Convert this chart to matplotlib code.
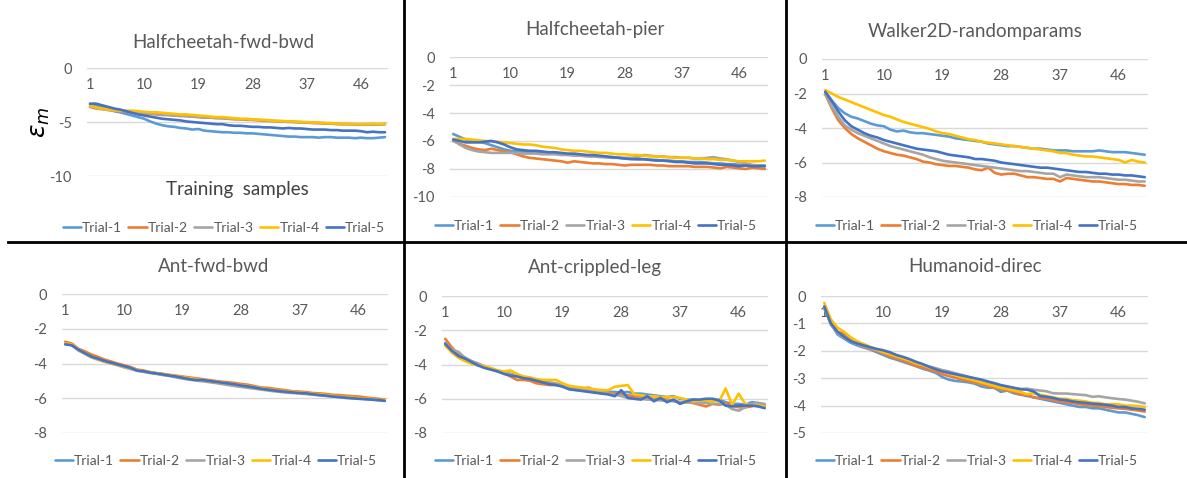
import matplotlib
matplotlib.use("Agg")
import matplotlib.pyplot as plt
from matplotlib.lines import Line2D

# =========================
# Data
# =========================

samples = list(range(1, 51))
xtick_labels = [1, 10, 19, 28, 37, 46]
trial_names = ["Trial-1", "Trial-2", "Trial-3", "Trial-4", "Trial-5"]

# Halfcheetah-fwd-bwd
hfb_1 = [-3.4, -3.45, -3.6, -3.8, -4.0, -4.1, -4.25, -4.4, -4.55, -4.7, -4.95, -5.15, -5.3, -5.4, -5.45, -5.55, -5.6, -5.7, -5.65, -5.8,
         -5.85, -5.9, -5.95, -5.95, -6.0, -6.0, -6.05, -6.05, -6.1, -6.15, -6.2, -6.25, -6.3, -6.35, -6.35, -6.4, -6.4, -6.4, -6.45, -6.4,
         -6.4, -6.45, -6.45, -6.45, -6.5, -6.45, -6.5, -6.5, -6.45, -6.4]
hfb_2 = [-3.6, -3.75, -3.8, -3.85, -3.95, -4.0, -4.05, -4.1, -4.15, -4.2, -4.25, -4.3, -4.35, -4.35, -4.4, -4.45, -4.45, -4.5, -4.55, -4.6,
         -4.6, -4.65, -4.65, -4.7, -4.75, -4.75, -4.8, -4.8, -4.85, -4.9, -4.9, -4.95, -4.95, -5.0, -5.0, -5.05, -5.05, -5.1, -5.1, -5.15,
         -5.15, -5.2, -5.2, -5.2, -5.25, -5.25, -5.25, -5.2, -5.25, -5.2]
hfb_3 = [-3.55, -3.7, -3.8, -3.9, -3.95, -4.0, -4.0, -4.05, -4.1, -4.15, -4.2, -4.25, -4.3, -4.35, -4.4, -4.4, -4.45, -4.5, -4.5, -4.55,
         -4.6, -4.6, -4.65, -4.7, -4.7, -4.75, -4.75, -4.8, -4.8, -4.85, -4.9, -4.9, -4.95, -4.95, -5.0, -5.0, -5.05, -5.05, -5.1, -5.1,
         -5.15, -5.15, -5.2, -5.2, -5.2, -5.25, -5.2, -5.25, -5.2, -5.2]
hfb_4 = [-3.5, -3.65, -3.75, -3.85, -3.9, -3.95, -3.95, -3.95, -4.0, -4.05, -4.1, -4.1, -4.15, -4.2, -4.25, -4.3, -4.3, -4.35, -4.4, -4.45,
         -4.5, -4.55, -4.55, -4.6, -4.65, -4.7, -4.7, -4.75, -4.8, -4.8, -4.85, -4.9, -4.9, -4.95, -4.95, -5.0, -5.0, -5.05, -5.05, -5.1,
         -5.1, -5.15, -5.15, -5.2, -5.2, -5.2, -5.2, -5.15, -5.2, -5.15]
hfb_5 = [-3.3, -3.3, -3.45, -3.6, -3.75, -3.85, -4.0, -4.15, -4.3, -4.4, -4.5, -4.6, -4.7, -4.75, -4.8, -4.85, -4.95, -5.0, -5.05, -5.1,
         -5.15, -5.2, -5.2, -5.3, -5.35, -5.35, -5.4, -5.45, -5.45, -5.5, -5.5, -5.55, -5.6, -5.55, -5.6, -5.6, -5.65, -5.7, -5.7, -5.7,
         -5.75, -5.75, -5.8, -5.8, -5.8, -5.85, -5.95, -5.9, -5.95, -5.95]

# Halfcheetah-pier
hp_1 = [-5.5, -5.7, -5.9, -6.0, -6.05, -6.15, -6.3, -6.45, -6.6, -6.7, -6.75, -6.8, -6.8, -6.85, -6.85, -6.9, -6.9, -6.95, -6.95, -7.0,
        -7.0, -7.05, -7.1, -7.1, -7.15, -7.2, -7.2, -7.25, -7.25, -7.3, -7.3, -7.35, -7.35, -7.4, -7.4, -7.45, -7.45, -7.5, -7.5, -7.5,
        -7.55, -7.6, -7.6, -7.65, -7.65, -7.7, -7.7, -7.75, -7.75, -7.75]
hp_2 = [-6.0, -6.2, -6.35, -6.5, -6.6, -6.65, -6.55, -6.65, -6.75, -6.8, -6.95, -7.1, -7.2, -7.25, -7.3, -7.35, -7.4, -7.45, -7.55, -7.45,
        -7.5, -7.55, -7.6, -7.6, -7.65, -7.65, -7.7, -7.75, -7.7, -7.7, -7.7, -7.7, -7.75, -7.75, -7.8, -7.8, -7.8, -7.8, -7.85, -7.85,
        -7.85, -7.9, -7.95, -7.85, -7.9, -7.95, -8.0, -7.9, -7.95, -8.0]
hp_3 = [-5.95, -6.25, -6.5, -6.65, -6.75, -6.8, -6.85, -6.85, -6.85, -6.85, -6.85, -6.9, -6.9, -6.9, -6.95, -6.95, -6.95, -7.0, -7.0, -7.05,
        -7.05, -7.1, -7.1, -7.15, -7.15, -7.15, -7.2, -7.2, -7.2, -7.15, -7.0, -7.05, -7.1, -7.1, -7.15, -7.15, -7.2, -7.2, -7.25, -7.25,
        -7.2, -7.15, -7.25, -7.3, -7.4, -7.5, -7.6, -7.7, -7.75, -7.8]
hp_4 = [-5.85, -5.85, -5.85, -5.9, -5.95, -6.0, -6.0, -6.05, -6.1, -6.15, -6.2, -6.25, -6.25, -6.3, -6.4, -6.45, -6.5, -6.6, -6.65, -6.7,
        -6.7, -6.75, -6.8, -6.85, -6.85, -6.9, -6.95, -6.95, -7.0, -7.0, -7.05, -7.1, -7.1, -7.15, -7.15, -7.2, -7.2, -7.2, -7.25, -7.25,
        -7.3, -7.3, -7.35, -7.35, -7.4, -7.45, -7.45, -7.45, -7.45, -7.4]
hp_5 = [-5.9, -6.0, -6.1, -6.1, -6.1, -6.05, -6.0, -6.1, -6.25, -6.45, -6.6, -6.65, -6.7, -6.7, -6.75, -6.8, -6.8, -6.85, -6.9, -6.9,
        -6.95, -7.0, -7.0, -7.05, -7.1, -7.15, -7.2, -7.25, -7.3, -7.3, -7.3, -7.35, -7.4, -7.4, -7.45, -7.5, -7.5, -7.55, -7.6, -7.6,
        -7.6, -7.65, -7.7, -7.7, -7.75, -7.8, -7.75, -7.8, -7.8, -7.8]

# Walker2D-randomparams
w2d_1 = [-1.9, -2.4, -2.85, -3.15, -3.35, -3.45, -3.6, -3.75, -3.85, -3.9, -4.1, -4.2, -4.15, -4.25, -4.3, -4.3, -4.35, -4.4, -4.45, -4.5,
         -4.6, -4.65, -4.7, -4.75, -4.8, -4.9, -4.95, -5.0, -5.05, -5.05, -5.1, -5.15, -5.2, -5.2, -5.25, -5.3, -5.3, -5.3, -5.35, -5.35,
         -5.35, -5.35, -5.3, -5.35, -5.4, -5.4, -5.4, -5.45, -5.5, -5.55]
w2d_2 = [-2.05, -2.85, -3.55, -4.0, -4.35, -4.6, -4.8, -5.0, -5.2, -5.35, -5.45, -5.55, -5.6, -5.7, -5.8, -5.95, -6.0, -6.1, -6.15, -6.2,
         -6.2, -6.25, -6.3, -6.4, -6.45, -6.3, -6.6, -6.7, -6.65, -6.65, -6.75, -6.85, -6.85, -6.9, -6.95, -6.95, -7.1, -6.9, -6.95, -7.0,
         -7.05, -7.1, -7.1, -7.15, -7.2, -7.25, -7.25, -7.3, -7.3, -7.35]
w2d_3 = [-2.0, -2.75, -3.35, -3.85, -4.1, -4.3, -4.45, -4.6, -4.75, -4.9, -5.05, -5.15, -5.25, -5.35, -5.45, -5.55, -5.7, -5.8, -5.9, -5.95,
         -6.0, -6.05, -6.1, -6.15, -6.2, -6.25, -6.3, -6.35, -6.4, -6.45, -6.5, -6.5, -6.55, -6.6, -6.65, -6.65, -6.85, -6.7, -6.75, -6.8,
         -6.85, -6.85, -6.85, -6.9, -6.95, -7.0, -7.0, -7.05, -7.1, -7.1]
w2d_4 = [-1.8, -2.0, -2.2, -2.35, -2.5, -2.65, -2.8, -2.95, -3.1, -3.25, -3.35, -3.5, -3.65, -3.75, -3.85, -3.95, -4.05, -4.2, -4.3, -4.35,
         -4.45, -4.55, -4.65, -4.7, -4.8, -4.85, -4.9, -4.95, -5.0, -5.05, -5.1, -5.15, -5.2, -5.25, -5.3, -5.35, -5.45, -5.45, -5.55, -5.6,
         -5.65, -5.65, -5.7, -5.75, -5.8, -5.85, -6.0, -5.85, -5.95, -6.0]
w2d_5 = [-1.9, -2.45, -3.05, -3.55, -3.9, -4.1, -4.3, -4.45, -4.55, -4.7, -4.8, -4.9, -5.0, -5.1, -5.2, -5.25, -5.3, -5.35, -5.45, -5.55,
         -5.6, -5.65, -5.7, -5.8, -5.8, -5.85, -5.9, -6.0, -6.05, -6.1, -6.15, -6.2, -6.25, -6.3, -6.3, -6.35, -6.4, -6.45, -6.5, -6.55,
         -6.55, -6.6, -6.65, -6.65, -6.7, -6.7, -6.75, -6.75, -6.8, -6.85]

# Ant-fwd-bwd
afb_1 = [-2.8, -2.9, -3.18, -3.35, -3.55, -3.7, -3.83, -3.95, -4.05, -4.15, -4.25, -4.38, -4.43, -4.5, -4.57, -4.62, -4.68, -4.73, -4.79, -4.86,
         -4.92, -4.95, -5.0, -5.05, -5.1, -5.15, -5.2, -5.26, -5.31, -5.37, -5.43, -5.48, -5.53, -5.57, -5.61, -5.65, -5.68, -5.71, -5.76, -5.79,
         -5.82, -5.87, -5.9, -5.94, -5.97, -6.0, -6.03, -6.06, -6.09, -6.12]
afb_2 = [-2.75, -2.85, -3.15, -3.3, -3.48, -3.62, -3.77, -3.88, -4.0, -4.1, -4.2, -4.35, -4.4, -4.5, -4.55, -4.6, -4.65, -4.7, -4.75, -4.8,
         -4.85, -4.9, -4.95, -5.0, -5.05, -5.08, -5.12, -5.18, -5.22, -5.3, -5.38, -5.4, -5.45, -5.5, -5.55, -5.6, -5.62, -5.65, -5.7, -5.72,
         -5.75, -5.8, -5.82, -5.85, -5.88, -5.9, -5.95, -6.0, -6.03, -6.07]
afb_3 = [-2.85, -2.95, -3.25, -3.45, -3.65, -3.78, -3.9, -4.0, -4.1, -4.22, -4.32, -4.42, -4.48, -4.55, -4.6, -4.67, -4.72, -4.8, -4.87, -4.93,
         -4.98, -5.02, -5.07, -5.12, -5.18, -5.24, -5.3, -5.35, -5.4, -5.45, -5.5, -5.55, -5.6, -5.64, -5.68, -5.7, -5.73, -5.76, -5.8, -5.83,
         -5.87, -5.9, -5.94, -5.98, -6.0, -6.03, -6.05, -6.08, -6.12, -6.15]
afb_4 = [-2.85, -2.9, -3.2, -3.4, -3.6, -3.75, -3.88, -3.98, -4.08, -4.18, -4.27, -4.37, -4.45, -4.5, -4.57, -4.62, -4.67, -4.73, -4.78, -4.85,
         -4.9, -4.95, -5.0, -5.05, -5.1, -5.14, -5.19, -5.25, -5.3, -5.36, -5.42, -5.47, -5.52, -5.57, -5.6, -5.64, -5.67, -5.7, -5.75, -5.78,
         -5.81, -5.86, -5.9, -5.93, -5.96, -5.99, -6.02, -6.05, -6.08, -6.1]
afb_5 = [-2.9, -2.95, -3.2, -3.4, -3.6, -3.72, -3.85, -3.95, -4.05, -4.15, -4.25, -4.4, -4.45, -4.52, -4.58, -4.63, -4.7, -4.75, -4.82, -4.9,
         -4.95, -4.95, -5.0, -5.05, -5.1, -5.15, -5.2, -5.27, -5.32, -5.38, -5.45, -5.5, -5.55, -5.6, -5.63, -5.67, -5.7, -5.72, -5.77, -5.82,
         -5.85, -5.9, -5.93, -5.97, -6.0, -6.03, -6.05, -6.08, -6.1, -6.15]

# Ant-crippled-leg
acl_1 = [-2.75, -3.2, -3.45, -3.6, -3.8, -3.95, -4.1, -4.25, -4.35, -4.5, -4.55, -4.65, -4.75, -4.8, -4.9, -5.0, -5.05, -5.15, -5.25, -5.35,
         -5.4, -5.45, -5.5, -5.5, -5.55, -5.6, -5.6, -5.65, -5.6, -5.7, -5.7, -5.75, -5.8, -5.85, -5.9, -5.85, -6.0, -6.05, -6.05, -6.1,
         -6.1, -6.1, -6.05, -6.2, -6.3, -6.3, -6.35, -6.2, -6.25, -6.35]
acl_2 = [-2.5, -3.0, -3.4, -3.65, -3.85, -4.0, -4.1, -4.25, -4.4, -4.5, -4.7, -4.9, -4.9, -4.95, -5.1, -5.15, -5.2, -5.2, -5.25, -5.35,
         -5.4, -5.4, -5.35, -5.55, -5.6, -5.65, -5.7, -5.75, -5.8, -5.85, -5.9, -5.95, -6.0, -6.0, -6.05, -6.1, -6.2, -6.2, -6.25, -6.35,
         -6.45, -6.3, -6.35, -6.25, -6.4, -6.5, -6.5, -6.45, -6.25, -6.4]
acl_3 = [-2.8, -3.15, -3.25, -3.6, -3.8, -3.95, -4.1, -4.25, -4.35, -4.45, -4.55, -4.65, -4.75, -4.8, -4.9, -5.0, -5.05, -5.1, -5.2, -5.3,
         -5.35, -5.4, -5.45, -5.5, -5.6, -5.7, -5.75, -5.85, -5.95, -6.0, -6.0, -6.05, -6.05, -6.1, -6.1, -6.15, -6.2, -6.2, -6.2, -6.25,
         -6.25, -6.3, -6.3, -6.35, -6.6, -6.7, -6.5, -6.3, -6.25, -6.3]
acl_4 = [-2.9, -3.3, -3.6, -3.8, -3.95, -4.05, -4.1, -4.2, -4.35, -4.4, -4.35, -4.55, -4.7, -4.75, -4.85, -4.9, -4.9, -4.9, -5.1, -5.25,
         -5.3, -5.35, -5.4, -5.45, -5.5, -5.5, -5.3, -5.25, -5.2, -5.75, -5.8, -5.85, -5.85, -5.9, -5.9, -5.9, -5.95, -6.05, -6.15, -6.1,
         -6.1, -6.15, -6.15, -5.4, -6.35, -5.7, -6.3, -6.4, -6.4, -6.45]
acl_5 = [-2.8, -3.2, -3.5, -3.65, -3.85, -4.05, -4.2, -4.3, -4.4, -4.55, -4.65, -4.7, -4.8, -4.85, -4.95, -5.05, -5.15, -5.2, -5.3, -5.45,
         -5.5, -5.55, -5.6, -5.65, -5.7, -5.75, -5.85, -5.5, -5.95, -6.0, -6.05, -5.85, -6.15, -5.95, -6.2, -6.05, -6.3, -6.15, -6.05, -6.05,
         -6.0, -6.0, -6.1, -6.4, -6.45, -6.4, -6.4, -6.4, -6.45, -6.55]

# Humanoid-direc
hd_1 = [-0.45, -1.0, -1.4, -1.55, -1.7, -1.8, -1.88, -1.95, -2.05, -2.15, -2.25, -2.32, -2.4, -2.48, -2.56, -2.65, -2.72, -2.8, -2.95, -3.05,
        -3.1, -3.12, -3.15, -3.2, -3.3, -3.35, -3.35, -3.5, -3.45, -3.55, -3.6, -3.65, -3.7, -3.75, -3.8, -3.85, -3.9, -3.95, -4.0, -4.05,
        -4.05, -4.1, -4.1, -4.15, -4.2, -4.25, -4.25, -4.3, -4.35, -4.42]
hd_2 = [-0.4, -0.95, -1.3, -1.38, -1.6, -1.75, -1.85, -1.93, -2.0, -2.1, -2.2, -2.28, -2.35, -2.45, -2.55, -2.6, -2.68, -2.75, -2.85, -2.92,
        -2.98, -3.05, -3.1, -3.15, -3.22, -3.28, -3.35, -3.4, -3.45, -3.5, -3.6, -3.6, -3.7, -3.72, -3.75, -3.8, -3.85, -3.88, -3.9, -3.95,
        -3.98, -4.0, -4.02, -4.05, -4.08, -4.1, -4.12, -4.15, -4.18, -4.22]
hd_3 = [-0.4, -1.05, -1.35, -1.5, -1.65, -1.75, -1.82, -1.9, -1.97, -2.05, -2.12, -2.2, -2.27, -2.35, -2.42, -2.5, -2.57, -2.63, -2.7, -2.75,
        -2.82, -2.88, -2.95, -3.02, -3.08, -3.15, -3.22, -3.28, -3.32, -3.36, -3.4, -3.38, -3.42, -3.45, -3.48, -3.55, -3.56, -3.56, -3.58, -3.6,
        -3.62, -3.68, -3.66, -3.7, -3.73, -3.76, -3.78, -3.82, -3.86, -3.92]
hd_4 = [-0.25, -0.85, -1.15, -1.3, -1.5, -1.65, -1.75, -1.85, -1.95, -2.05, -2.12, -2.2, -2.28, -2.35, -2.45, -2.52, -2.6, -2.67, -2.75, -2.82,
        -2.88, -2.95, -3.02, -3.08, -3.15, -3.22, -3.28, -3.35, -3.4, -3.45, -3.5, -3.58, -3.55, -3.6, -3.65, -3.7, -3.75, -3.75, -3.8, -3.82,
        -3.85, -3.9, -3.9, -3.95, -3.95, -3.95, -4.0, -4.0, -4.02, -4.05]
hd_5 = [-0.38, -1.0, -1.3, -1.48, -1.65, -1.73, -1.8, -1.87, -1.93, -1.98, -2.05, -2.15, -2.22, -2.3, -2.4, -2.48, -2.58, -2.67, -2.75, -2.8,
        -2.85, -2.9, -2.95, -3.0, -3.05, -3.12, -3.18, -3.25, -3.3, -3.35, -3.4, -3.42, -3.48, -3.65, -3.68, -3.72, -3.78, -3.8, -3.85, -3.88,
        -3.9, -3.93, -3.95, -3.97, -4.0, -4.05, -4.05, -4.1, -4.12, -4.15]

# =========================
# Style
# =========================

W, H = 1187, 478
colors = ["#5B9BD5", "#ED7D31", "#A5A5A5", "#FFC000", "#4472C4"]
text_gray = "#595959"
grid_gray = "#D9D9D9"
plt.rcParams["font.family"] = ["Lato", "DejaVu Sans"]

# panel: title, series, yticks, plot box in pixels (x0, y_top, x1, y_bottom),
#        title centre, legend centre
panels = [
    ("Halfcheetah-fwd-bwd", [hfb_1, hfb_2, hfb_3, hfb_4, hfb_5], [0, -5, -10],
     (87, 68, 388, 176), (223, 42), (224, 228)),
    ("Halfcheetah-pier", [hp_1, hp_2, hp_3, hp_4, hp_5], [0, -2, -4, -6, -8, -10],
     (450, 57, 768, 197), (595, 29), (596, 226)),
    ("Walker2D-randomparams", [w2d_1, w2d_2, w2d_3, w2d_4, w2d_5], [0, -2, -4, -6, -8],
     (822, 59, 1148, 197), (975, 31), (977, 226)),
    ("Ant-fwd-bwd", [afb_1, afb_2, afb_3, afb_4, afb_5], [0, -2, -4, -6, -8],
     (62, 294, 388, 433), (214, 267), (216, 461)),
    ("Ant-crippled-leg", [acl_1, acl_2, acl_3, acl_4, acl_5], [0, -2, -4, -6, -8],
     (442, 296, 768, 433), (595, 267), (596, 461)),
    ("Humanoid-direc", [hd_1, hd_2, hd_3, hd_4, hd_5], [0, -1, -2, -3, -4, -5],
     (821, 296, 1148, 433), (975, 267), (977, 461)),
]


def fx(px):
    return px / W


def fy(py):
    return 1 - py / H


fig = plt.figure(figsize=(W / 100, H / 100), dpi=100)

for title, series, yticks, box, tpos, lpos in panels:
    x0, y0, x1, y1 = box
    ax = fig.add_axes([fx(x0), fy(y1), fx(x1) - fx(x0), fy(y0) - fy(y1)])
    lines = []
    for vals, c, name in zip(series, colors, trial_names):
        ln, = ax.plot(samples, vals, color=c, lw=1.9, label=name,
                      solid_capstyle="round", solid_joinstyle="round")
        lines.append(ln)

    ax.set_xlim(0.5, 50.5)
    ax.set_ylim(min(yticks), 0)
    ax.set_yticks(yticks)
    ax.set_yticklabels([str(t) for t in yticks])
    ax.set_xticks(xtick_labels)
    ax.set_xticklabels([str(t) for t in xtick_labels])

    for s in ax.spines.values():
        s.set_visible(False)
    ax.spines["bottom"].set_position(("data", 0))
    ax.grid(axis="y", color=grid_gray, lw=1.0)
    ax.set_axisbelow(True)
    ax.tick_params(axis="y", length=0, pad=11, labelsize=10.5, labelcolor=text_gray)
    ax.tick_params(axis="x", length=0, pad=7, labelsize=10.5, labelcolor=text_gray)
    ax.patch.set_alpha(0)

    fig.text(fx(tpos[0]), fy(tpos[1]), title, ha="center", va="center",
             fontsize=13.5, color=text_gray)

    fig.legend(handles=lines, labels=trial_names, loc="center",
               bbox_to_anchor=(fx(lpos[0]), fy(lpos[1])), ncol=5, frameon=False,
               fontsize=10, handlelength=1.3, handletextpad=0.1,
               columnspacing=0.45, labelcolor=text_gray)

# axis captions on the first panel
fig.text(fx(40), fy(122), r"$\epsilon_m$", rotation=90, ha="center", va="center",
         fontsize=18, color="black")
fig.text(fx(237), fy(190), "Training  samples", ha="center", va="center",
         fontsize=13.5, color="#404040")

# black divider lines between the panels
for xs, ys in [((404, 404), (0, H)), ((786, 786), (0, H)), ((8, W), (242, 242))]:
    fig.add_artist(Line2D([fx(xs[0]), fx(xs[1])], [fy(ys[0]), fy(ys[1])],
                          transform=fig.transFigure, color="black", lw=2.0))

fig.savefig("out.png", dpi=100, facecolor="white")
